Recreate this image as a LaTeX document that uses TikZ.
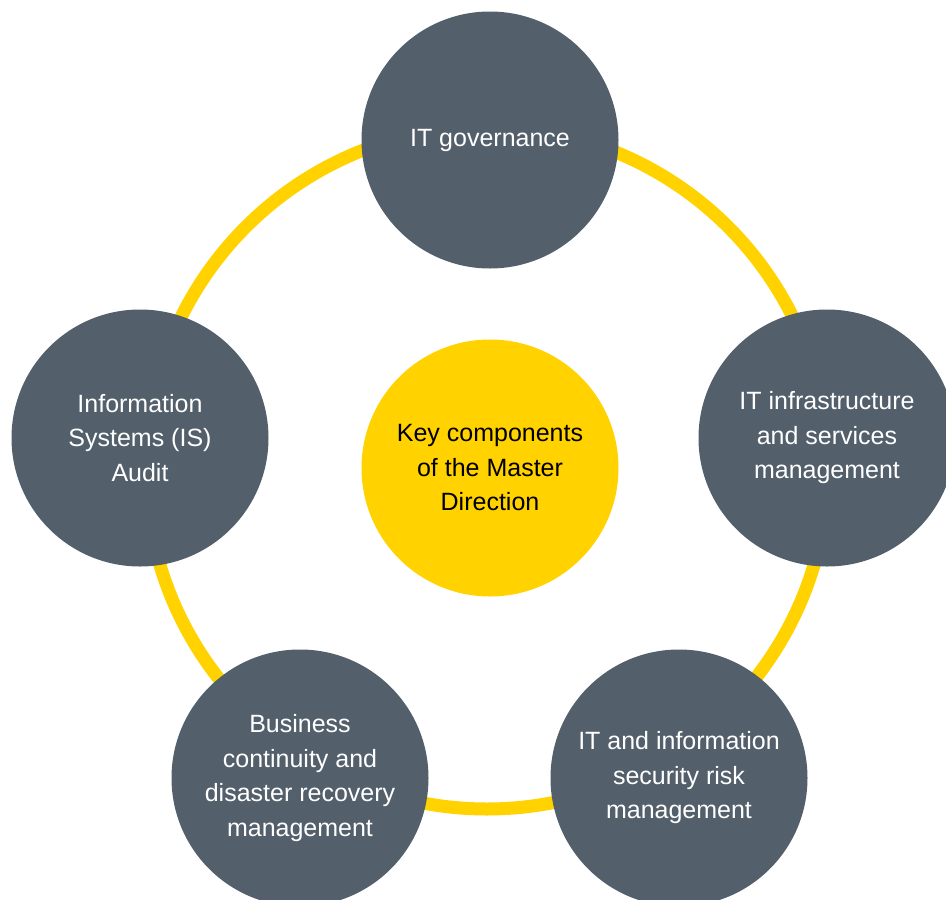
\documentclass[tikz,border=0pt]{standalone}
\usepackage{fontspec}
\setmainfont{Liberation Sans}
\definecolor{eyslate}{HTML}{535F6B}
\definecolor{eyyellow}{HTML}{FFD200}
\begin{document}
\begin{tikzpicture}[x=1pt, y=-1pt,
		topic/.style = {circle, fill = eyslate, text = white, minimum size = 257pt, inner sep = 0pt, align = center, font = \fontsize{25}{34.5}\selectfont},
		hub/.style = {topic, fill = eyyellow, text = black}]
	\useasboundingbox (0,0) rectangle (946,900);
	\coordinate (ring) at (487,468);
	\draw [eyyellow, line width = 13pt] (ring) circle [radius = 341];
	\node [hub] (key) at (490,468) {Key components\\of the Master\\Direction};
	\node [topic] (gov) at (490,140) {IT governance};
	\node [topic] (infra) at (827,438) {IT infrastructure\\and services\\management};
	\node [topic] (risk) at (679,778) {IT and information\\security risk\\management};
	\node [topic] (bcp) at (300,778) {Business\\continuity and\\disaster recovery\\management};
	\node [topic] (audit) at (140,438) {Information\\Systems (IS)\\Audit};
\end{tikzpicture}
\end{document}
